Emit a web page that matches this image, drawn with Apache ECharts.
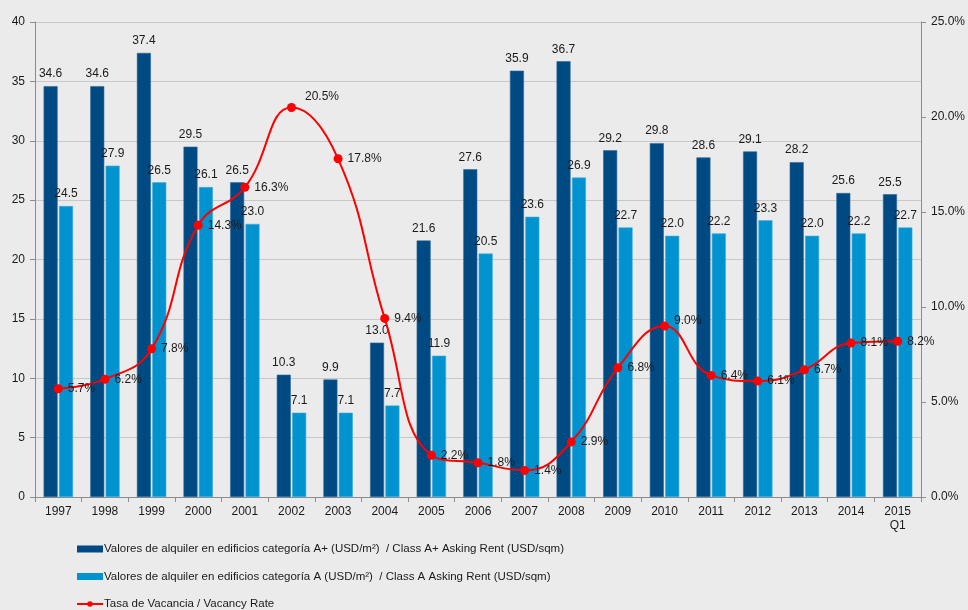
<!DOCTYPE html>
<html><head><meta charset="utf-8">
<script src="https://cdn.jsdelivr.net/npm/echarts@6/dist/echarts.min.js"></script>
<style>html,body{margin:0;padding:0;background:#EBEBEB}#c{width:968px;height:610px}</style>
</head><body><div id="c"></div>
<script>
var categories = ['1997','1998','1999','2000','2001','2002','2003','2004','2005','2006','2007','2008','2009','2010','2011','2012','2013','2014','2015\nQ1'];
var classAPlus = [34.6,34.6,37.4,29.5,26.5,10.3,9.9,13.0,21.6,27.6,35.9,36.7,29.2,29.8,28.6,29.1,28.2,25.6,25.5];
var classA = [24.5,27.9,26.5,26.1,23.0,7.1,7.1,7.7,11.9,20.5,23.6,26.9,22.7,22.0,22.2,23.3,22.0,22.2,22.7];
var vacancy = [5.7,6.2,7.8,14.3,16.3,20.5,17.8,9.4,2.2,1.8,1.4,2.9,6.8,9.0,6.4,6.1,6.7,8.1,8.2];
var leftTicks = [0,5,10,15,20,25,30,35,40];
var rightTicks = [0,5,10,15,20,25];

var names = [
  'Valores de alquiler en edificios categoría A+ (USD/m²)  / Class A+ Asking Rent (USD/sqm)',
  'Valores de alquiler en edificios categoría A (USD/m²)  / Class A Asking Rent (USD/sqm)',
  'Tasa de Vacancia / Vacancy Rate'
];
var font = 'Liberation Sans, Arial, sans-serif';
var chart = echarts.init(document.getElementById('c'));
var lblStyle = {fontFamily: font, fontSize: 12, color: '#1a1a1a'};
var vacData = vacancy.map(function(v, i){
  var d = {value: v};
  if (i === 5) d.label = {offset: [4, -11]};
  if (i === 13) d.label = {offset: [0, -5]};
  return d;
});
chart.setOption({
  backgroundColor: '#EBEBEB',
  animation: false,
  textStyle: {fontFamily: font},
  grid: {left: 35, right: 46, top: 22, bottom: 113},
  legend: {
    orient: 'vertical', left: 76, top: 543, itemGap: 15.5, padding: 0,
    itemWidth: 26, itemHeight: 7,
    itemStyle: {borderWidth: 0},
    textStyle: {fontFamily: font, fontSize: 11.5, color: '#1a1a1a', padding: [0,0,0,-4]},
    data: [
      {name: names[0], icon: 'rect'},
      {name: names[1], icon: 'rect'},
      {name: names[2]}
    ]
  },
  xAxis: {
    type: 'category', data: categories, boundaryGap: true,
    axisLine: {lineStyle: {color: '#8c8c8c'}},
    axisTick: {show: true, length: 5, lineStyle: {color: '#8c8c8c'}},
    axisLabel: {fontFamily: font, fontSize: 12, color: '#1a1a1a', margin: 8, lineHeight: 14}
  },
  yAxis: [{
    type: 'value', min: 0, max: 40, interval: 5,
    axisLine: {show: true, lineStyle: {color: '#8c8c8c'}},
    axisTick: {show: true, length: 5, lineStyle: {color: '#8c8c8c'}},
    axisLabel: {fontFamily: font, fontSize: 12, color: '#1a1a1a', margin: 10},
    splitLine: {lineStyle: {color: '#C8C8C8'}}
  }, {
    type: 'value', min: 0, max: 25, interval: 5, position: 'right',
    axisLine: {show: true, lineStyle: {color: '#8c8c8c'}},
    axisTick: {show: true, length: 5, lineStyle: {color: '#8c8c8c'}},
    axisLabel: {fontFamily: font, fontSize: 12, color: '#1a1a1a', margin: 10, formatter: function(v){return v.toFixed(1)+'%';}},
    splitLine: {show: false}
  }],
  series: [{
    name: names[0], type: 'bar', data: classAPlus, barWidth: 14, barGap: '10%',
    itemStyle: {color: '#004A83', borderColor: '#2E6A9A', borderWidth: 0.6},
    label: Object.assign({show: true, position: 'top', distance: 6, formatter: function(p){return p.value.toFixed(1);}}, lblStyle)
  }, {
    name: names[1], type: 'bar', data: classA, barWidth: 14,
    itemStyle: {color: '#0093D0', borderColor: '#3AAEDD', borderWidth: 0.6},
    label: Object.assign({show: true, position: 'top', distance: 6, formatter: function(p){return p.value.toFixed(1);}}, lblStyle)
  }, {
    name: names[2], type: 'line', yAxisIndex: 1, data: vacData, smooth: 0.45,
    symbol: 'circle', symbolSize: 9,
    lineStyle: {color: '#FF0000', width: 2},
    itemStyle: {color: '#FF0000'},
    label: Object.assign({show: true, position: 'right', distance: 5, formatter: function(p){return p.value.toFixed(1)+'%';}}, lblStyle)
  }]
});
</script></body></html>
